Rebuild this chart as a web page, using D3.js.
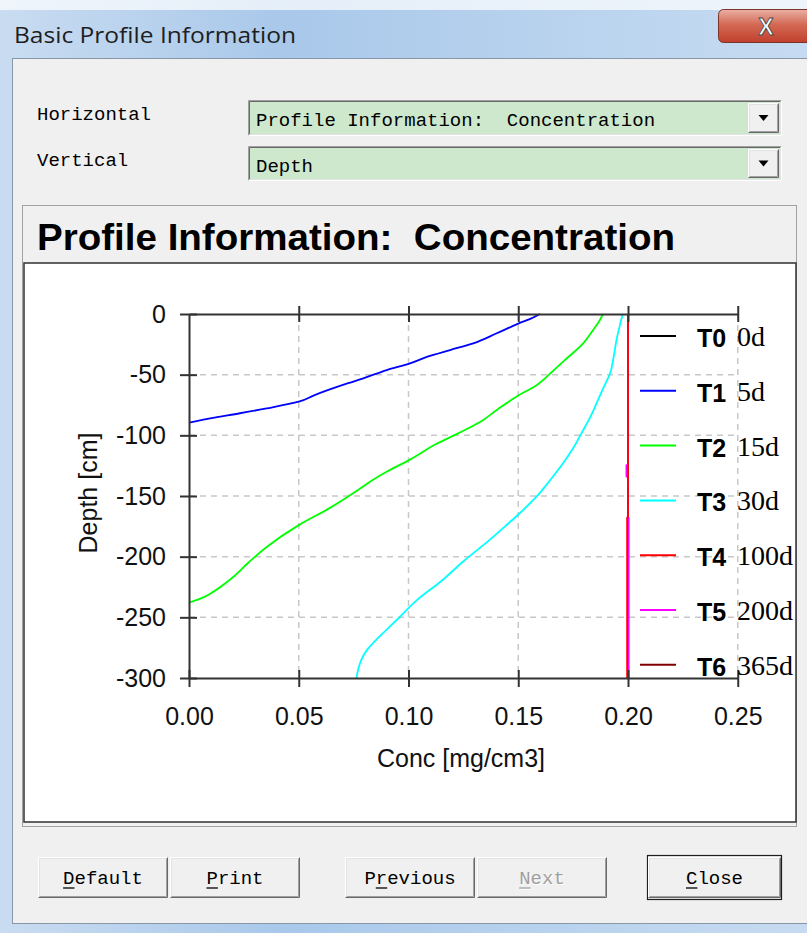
<!DOCTYPE html>
<html>
<head>
<meta charset="utf-8">
<script src="https://cdn.jsdelivr.net/npm/d3@7/dist/d3.min.js"></script>
<style>
  html, body { margin: 0; padding: 0; background: #fff; overflow: hidden; }
  svg { display: block; }
  svg text { white-space: pre; }
</style>
</head>
<body>
<svg id="win" width="807" height="933"></svg>
<script>
// ---- chart data -------------------------------------------------------
const concTicks  = [0, 0.05, 0.10, 0.15, 0.20, 0.25];
const depthTicks = [0, -50, -100, -150, -200, -250, -300];

const seriesNames  = ["T0", "T1", "T2", "T3", "T4", "T5", "T6"];
const seriesTimes  = ["0d", "5d", "15d", "30d", "100d", "200d", "365d"];
const seriesColors = ["#000000", "#0000ff", "#00ff00", "#00ffff", "#ff0000", "#ff00ff", "#800000"];

// [depth (cm), concentration (mg/cm3)]
const profileT0 = [[0, 0.2], [-300, 0.2]];
const profileT1 = [[0, 0.1599], [-4, 0.1555], [-7.7, 0.1503], [-15.9, 0.1402], [-24.2, 0.1295],
  [-29.7, 0.1190], [-35, 0.109], [-40.7, 0.1007], [-46.2, 0.0901], [-53, 0.0794], [-57, 0.0725],
  [-62.6, 0.0635], [-67, 0.057], [-72.3, 0.050], [-77.8, 0.0354], [-81.8, 0.0232], [-86, 0.0096],
  [-88, 0.004], [-89.6, 0.0]];
const profileT2 = [[0, 0.1886], [-5, 0.1872], [-13, 0.1842], [-24, 0.1797], [-39, 0.1706],
  [-50, 0.1640], [-58.5, 0.1585], [-68, 0.1493], [-78, 0.1410], [-89, 0.1326], [-98, 0.1230],
  [-107, 0.1128], [-120, 0.1007], [-130, 0.0900], [-137, 0.0835], [-145, 0.0770], [-160, 0.0640],
  [-174, 0.0500], [-192, 0.0354], [-205, 0.0270], [-217, 0.0200], [-229, 0.0110], [-234, 0.0060],
  [-238, 0.0]];
const profileT3 = [[0, 0.1976], [-10, 0.1962], [-21, 0.1948], [-35, 0.1935], [-49, 0.1918],
  [-60, 0.1890], [-73.5, 0.1857], [-85, 0.1828], [-96, 0.1795], [-110, 0.1752], [-123, 0.1704],
  [-137, 0.1645], [-150.6, 0.1583], [-164, 0.1508], [-175, 0.1440], [-186, 0.1371], [-204, 0.1249],
  [-219, 0.1157], [-236, 0.1037], [-252, 0.0947], [-263, 0.0884], [-270, 0.0845], [-277, 0.0810],
  [-285, 0.0785], [-292, 0.0772], [-300, 0.0763]];
const profileT4 = [[0, 0.2], [-167, 0.2], [-168, 0.1996], [-300, 0.1996]];
const profileT5 = [[0, 0.2], [-124, 0.2], [-124.5, 0.1993], [-134, 0.1993], [-134.5, 0.2],
  [-167, 0.2], [-168, 0.2003], [-300, 0.2003]];
const profileT6 = [[0, 0.2], [-300, 0.2]];

const profiles = [profileT0, profileT1, profileT2, profileT3, profileT4, profileT5, profileT6];
// red (T4) is painted last so it sits on top of the coincident profiles
const drawOrder = [0, 1, 2, 3, 6, 5, 4];

// ---- helpers ----------------------------------------------------------
const svg = d3.select("#win");
const MONO = "'Liberation Mono', 'DejaVu Sans Mono', monospace";
const SANS = "'Liberation Sans', Arial, sans-serif";
const SERIF = "'Liberation Serif', 'Times New Roman', serif";

function fit(sel, w) {
  sel.attr("textLength", w).attr("lengthAdjust", "spacingAndGlyphs");
  return sel;
}

function bevel(g, x, y, w, h, raised) {
  const hi = raised ? "#ffffff" : "#a0a0a0";
  const hi2 = raised ? "#e3e3e3" : "#696969";
  const lo = raised ? "#696969" : "#ffffff";
  const lo2 = raised ? "#a0a0a0" : "#e3e3e3";
  g.append("path").attr("d", `M${x + .5},${y + h - .5}V${y + .5}H${x + w - .5}`)
    .attr("fill", "none").attr("stroke", hi);
  g.append("path").attr("d", `M${x + 1.5},${y + h - 1.5}V${y + 1.5}H${x + w - 1.5}`)
    .attr("fill", "none").attr("stroke", hi2);
  g.append("path").attr("d", `M${x + .5},${y + h - .5}H${x + w - .5}V${y + .5}`)
    .attr("fill", "none").attr("stroke", lo);
  g.append("path").attr("d", `M${x + 1.5},${y + h - 1.5}H${x + w - 1.5}V${y + 1.5}`)
    .attr("fill", "none").attr("stroke", lo2);
}

// ---- window frame ------------------------------------------------------
const defs = svg.append("defs");
const tg = defs.append("linearGradient").attr("id", "titleGrad").attr("x1", 0).attr("x2", 1).attr("y1", 0).attr("y2", 0);
tg.append("stop").attr("offset", "0%").attr("stop-color", "#c9dcf1");
tg.append("stop").attr("offset", "35%").attr("stop-color", "#a9c8ea");
tg.append("stop").attr("offset", "70%").attr("stop-color", "#b9d3ee");
tg.append("stop").attr("offset", "100%").attr("stop-color", "#c6dbf1");
const cg = defs.append("linearGradient").attr("id", "closeGrad").attr("x1", 0).attr("x2", 0).attr("y1", 0).attr("y2", 1);
cg.append("stop").attr("offset", "0%").attr("stop-color", "#eab0a4");
cg.append("stop").attr("offset", "45%").attr("stop-color", "#d46a55");
cg.append("stop").attr("offset", "100%").attr("stop-color", "#c0402c");

svg.append("rect").attr("width", 807).attr("height", 933).attr("fill", "url(#titleGrad)");
svg.append("rect").attr("width", 807).attr("height", 10).attr("fill", "#ffffff").attr("opacity", 0.7);

svg.append("text").attr("x", 14).attr("y", 43)
  .attr("font-family", "'Open Sans', 'Noto Sans', sans-serif").attr("font-size", 21)
  .attr("fill", "#1e1e1e").text("Basic Profile Information").call(fit, 282);

svg.append("rect").attr("x", 718.5).attr("y", 9.5).attr("width", 100).attr("height", 33).attr("rx", 5)
  .attr("fill", "url(#closeGrad)").attr("stroke", "#7a3328");
svg.append("text").attr("x", 766).attr("y", 35).attr("text-anchor", "middle")
  .attr("font-family", SANS).attr("font-weight", "bold").attr("font-size", 23)
  .attr("fill", "#ffffff").attr("stroke", "#4a4a4a").attr("stroke-width", 0.9).text("X");

// client area
svg.append("rect").attr("x", 12.5).attr("y", 58.5).attr("width", 800).attr("height", 865)
  .attr("fill", "#f0f0f0").attr("stroke", "#8797a8");

// ---- selectors ---------------------------------------------------------
const ctl = svg.append("g");
function combo(y, h, label, value) {
  ctl.append("text").attr("x", 37).attr("y", y + 20).attr("font-family", MONO).attr("font-size", 19)
    .attr("fill", "#000").text(label);
  ctl.append("rect").attr("x", 248).attr("y", y).attr("width", 534).attr("height", h).attr("fill", "#cde8cd");
  bevel(ctl, 248, y, 534, h, false);
  ctl.append("text").attr("x", 256).attr("y", y + 26).attr("font-family", MONO).attr("font-size", 19)
    .attr("fill", "#000").text(value);
  const bx = 748, by = y + 3, bw = 31, bh = h - 6;
  ctl.append("rect").attr("x", bx).attr("y", by).attr("width", bw).attr("height", bh).attr("fill", "#f0f0f0");
  bevel(ctl, bx, by, bw, bh, true);
  const cx = bx + bw / 2, cy = by + bh / 2;
  ctl.append("path").attr("d", `M${cx - 5},${cy - 3}H${cx + 5}L${cx},${cy + 3}Z`).attr("fill", "#000");
}
combo(100, 36, "Horizontal", "Profile Information:  Concentration");
combo(146, 35, "Vertical", "Depth");

// ---- chart panel -------------------------------------------------------
svg.append("rect").attr("x", 22.5).attr("y", 205.5).attr("width", 774).attr("height", 621)
  .attr("fill", "#f0f0f0").attr("stroke", "#555").attr("stroke-dasharray", "1,1");
svg.append("text").attr("x", 37).attr("y", 250).attr("font-family", SANS).attr("font-weight", "bold")
  .attr("font-size", 37).attr("fill", "#000").text("Profile Information:  Concentration").call(fit, 638);
svg.append("rect").attr("x", 24).attr("y", 263).attr("width", 772).attr("height", 559)
  .attr("fill", "#ffffff").attr("stroke", "#3c3c3c").attr("stroke-width", 1.6);

// ---- scales ------------------------------------------------------------
const x = d3.scaleLinear().domain([0, 0.25]).range([189, 737.75]);
const y = d3.scaleLinear().domain([0, -300]).range([314, 678]);

const plot = svg.append("g");

// dashed grid
plot.append("g").selectAll("line").data(concTicks.slice(1)).join("line")
  .attr("x1", d => x(d)).attr("x2", d => x(d)).attr("y1", y(0)).attr("y2", y(-300))
  .attr("stroke", "#c8c8c8").attr("stroke-width", 1.5).attr("stroke-dasharray", "6,5");
plot.append("g").selectAll("line").data(depthTicks.slice(1, -1)).join("line")
  .attr("x1", x(0)).attr("x2", x(0.25)).attr("y1", d => y(d)).attr("y2", d => y(d))
  .attr("stroke", "#c8c8c8").attr("stroke-width", 1.5).attr("stroke-dasharray", "6,5");

// profiles
const line = d3.line().x(d => x(d[1])).y(d => y(d[0])).curve(d3.curveMonotoneY);
plot.append("g").selectAll("path").data(drawOrder).join("path")
  .attr("d", i => line(profiles[i]))
  .attr("fill", "none").attr("stroke", i => seriesColors[i]).attr("stroke-width", 1.8);

// axes
function styleAxis(g) {
  g.select(".domain").attr("stroke", "#333").attr("stroke-width", 2);
  g.selectAll(".tick line").attr("stroke", "#333").attr("stroke-width", 2);
  g.selectAll(".tick text").attr("font-family", SANS).attr("font-size", 25).attr("fill", "#111");
}
const axL = plot.append("g").attr("transform", `translate(${x(0)},0)`)
  .call(d3.axisLeft(y).tickValues(depthTicks).tickSize(9).tickSizeOuter(0).tickPadding(14).tickFormat(d => String(d)))
  .call(styleAxis);
axL.selectAll(".tick line").attr("x1", 8);

const axT = plot.append("g").attr("transform", `translate(0,${y(0)})`)
  .call(d3.axisTop(x).tickValues(concTicks.slice(1)).tickSize(8).tickSizeOuter(0).tickFormat(""))
  .call(styleAxis);
axT.selectAll(".tick line").attr("y1", 8);

const axB = plot.append("g").attr("transform", `translate(0,${y(-300)})`)
  .call(d3.axisBottom(x).tickValues(concTicks).tickSize(9).tickSizeOuter(0).tickPadding(20).tickFormat(d => d.toFixed(2)))
  .call(styleAxis);
axB.selectAll(".tick line").attr("y1", -8);

// axis titles
plot.append("text").attr("x", 461).attr("y", 767).attr("text-anchor", "middle")
  .attr("font-family", SANS).attr("font-size", 25).attr("fill", "#111").text("Conc [mg/cm3]");
plot.append("text").attr("transform", "translate(97,493) rotate(-90)").attr("text-anchor", "middle")
  .attr("font-family", SANS).attr("font-size", 25).attr("fill", "#111").text("Depth [cm]");

// legend
const leg = plot.append("g").selectAll("g").data(seriesNames).join("g")
  .attr("transform", (d, i) => `translate(0,${336 + i * 54.8})`);
leg.append("line").attr("x1", 640).attr("x2", 676).attr("stroke", (d, i) => seriesColors[i]).attr("stroke-width", 2);
leg.append("text").attr("x", 697).attr("y", 11).attr("font-family", SANS).attr("font-weight", "bold")
  .attr("font-size", 25).attr("fill", "#000").text(d => d);
leg.append("text").attr("x", 737).attr("y", 10).attr("font-family", SERIF)
  .attr("font-size", 28).attr("fill", "#000").text((d, i) => seriesTimes[i]);

// ---- buttons -----------------------------------------------------------
const buttons = [
  { label: "Default", key: 0, x: 38, w: 130, enabled: true },
  { label: "Print", key: 0, x: 170, w: 130, enabled: true },
  { label: "Previous", key: 1, x: 345, w: 130, enabled: true },
  { label: "Next", key: 0, x: 477, w: 130, enabled: false },
  { label: "Close", key: 0, x: 648, w: 133, enabled: true, isDefault: true }
];
const bg = svg.append("g");
buttons.forEach(b => {
  const by = 857, bh = 41;
  const g = bg.append("g");
  if (b.isDefault) {
    g.append("rect").attr("x", b.x - 0.5).attr("y", by - 1.5).attr("width", b.w + 1).attr("height", bh + 3)
      .attr("fill", "none").attr("stroke", "#1e1e1e").attr("stroke-width", 1.2);
  }
  g.append("rect").attr("x", b.x).attr("y", by).attr("width", b.w).attr("height", bh).attr("fill", "#f0f0f0");
  bevel(g, b.x, by, b.w, bh, true);
  const cx = b.x + b.w / 2, ty = by + 27;
  const drawLabel = (dx, dy, color) => {
    const t = g.append("text").attr("x", cx + dx).attr("y", ty + dy).attr("text-anchor", "middle")
      .attr("font-family", MONO).attr("font-size", 19).attr("fill", color).text(b.label);
    const ext = t.node().getExtentOfChar(b.key);
    g.append("line").attr("x1", ext.x).attr("x2", ext.x + ext.width)
      .attr("y1", ty + dy + 4).attr("y2", ty + dy + 4).attr("stroke", color).attr("stroke-width", 1.3);
  };
  if (b.enabled) {
    drawLabel(0, 0, "#000");
  } else {
    drawLabel(1, 1, "#ffffff");
    drawLabel(0, 0, "#a0a0a0");
  }
});
</script>
</body>
</html>
